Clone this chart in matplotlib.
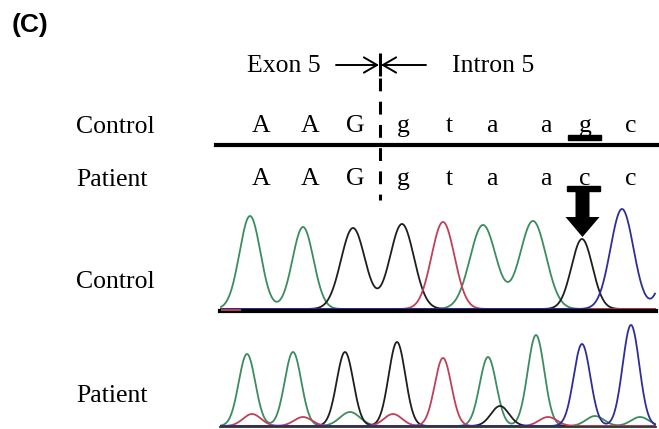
import numpy as np
import matplotlib
matplotlib.use("Agg")
import matplotlib.pyplot as plt
from matplotlib.patches import FancyArrow, Rectangle

# sequence rows
bases_x = [261, 310, 355, 403, 449, 492, 546, 585, 631]
control_seq = ["A", "A", "G", "g", "t", "a", "a", "g", "c"]
patient_seq = ["A", "A", "G", "g", "t", "a", "a", "c", "c"]
mut_index = 7

# control trace peaks (x pixel, height px, sigma, colour)
ctrl_pos = [250, 303, 353, 402, 443, 483, 533, 582, 622, 676]
ctrl_h = [93, 82, 81, 85, 87, 84, 88, 70, 100, 85]
ctrl_sig = [10.5, 10.5, 12, 12, 11.5, 13, 13, 10.5, 11.5, 11]
ctrl_col = ["g", "g", "k", "k", "r", "g", "g", "k", "b", "b"]

# patient trace peaks (main + small secondary)
pat_pos = [247, 293, 345, 397, 443, 488, 536, 582, 631,
           252, 303, 350, 393, 500, 548, 595, 640]
pat_h = [72, 74, 74, 84, 68, 69, 91, 82, 101,
         12, 9, 14, 12, 20, 9, 10, 9]
pat_sig = [8.3, 8.3, 8.3, 8.3, 8.3, 8.3, 8.3, 8.3, 8.3,
           9, 9, 10, 9, 9, 9, 9, 9]
pat_col = ["g", "g", "k", "k", "r", "g", "g", "b", "b",
           "r", "r", "g", "r", "k", "r", "g", "g"]

colours = {"g": "#3b8c5f", "k": "#1e1e1e", "r": "#c0405a", "b": "#2e2e9a"}

fig = plt.figure(figsize=(6.59, 4.29), dpi=100)
ax = fig.add_axes([0, 0, 1, 1])
ax.set_xlim(0, 659)
ax.set_ylim(429, 0)
ax.axis("off")

serif = "Liberation Serif"
fs = 18.5

ax.text(12, 32, "(C)", fontsize=19, fontweight="bold", family="Liberation Sans", va="baseline")

# exon / intron header
ax.text(247, 72, "Exon 5", fontsize=fs, family=serif, va="baseline")
ax.text(452, 72, "Intron 5", fontsize=fs, family=serif, va="baseline")
head = "->,head_length=0.95,head_width=0.55"
ax.annotate("", xy=(379, 65), xytext=(336, 65),
            arrowprops=dict(arrowstyle=head, lw=1.4, color="black",
                            shrinkA=0, shrinkB=0))
ax.annotate("", xy=(381, 65), xytext=(426, 65),
            arrowprops=dict(arrowstyle=head, lw=1.4, color="black",
                            shrinkA=0, shrinkB=0))
ax.plot([380, 380], [53, 76], color="black", lw=2.2, solid_capstyle="butt")
ax.plot([380, 380], [78, 200], color="black", lw=2.2, linestyle=(0, (4.2, 3.4)))

# sequences
ax.text(76, 133, "Control", fontsize=fs, family=serif, va="baseline")
ax.text(76, 186, "Patient", fontsize=fs, family=serif, va="baseline")
for x, c, p in zip(bases_x, control_seq, patient_seq):
    ax.text(x, 132, c, fontsize=fs, family=serif, ha="center", va="baseline")
    ax.text(x, 185, p, fontsize=fs, family=serif, ha="center", va="baseline")
ax.plot([216, 659], [144.5, 144.5], color="black", lw=3)
mx = bases_x[mut_index]
ax.add_patch(Rectangle((mx - 17, 135), 33, 5, color="black"))
ax.add_patch(Rectangle((mx - 18, 186), 33, 5, color="black"))
ax.add_patch(FancyArrow(mx - 2.5, 191, 0, 46, width=14, head_width=34, head_length=20,
                        length_includes_head=True, color="black", lw=0))

# chromatograms
ax.text(76, 288, "Control", fontsize=fs, family=serif, va="baseline")
ax.text(76, 402, "Patient", fontsize=fs, family=serif, va="baseline")


def draw_trace(base, pos, h, sig, col, x0, x1):
    xs = np.linspace(x0, x1, 800)
    for key in ["g", "k", "r", "b"]:
        sel = [i for i, c in enumerate(col) if c == key]
        if not sel:
            continue
        y = np.zeros_like(xs)
        for i in sel:
            y += h[i] * np.exp(-(xs - pos[i]) ** 2 / (2 * sig[i] ** 2))
        ax.plot(xs, base - y, color=colours[key], lw=1.3, solid_joinstyle="round")


draw_trace(309, ctrl_pos, ctrl_h, ctrl_sig, ctrl_col, 221, 655)
ax.plot([220, 656], [310.5, 310.5], color="black", lw=3)
ax.plot([222, 240], [310, 310], color="#b04050", lw=1.5)
draw_trace(426, pat_pos, pat_h, pat_sig, pat_col, 221, 655)
ax.plot([220, 656], [427, 427], color="#333333", lw=1.3)

fig.savefig("out.png", dpi=100, facecolor="white")
